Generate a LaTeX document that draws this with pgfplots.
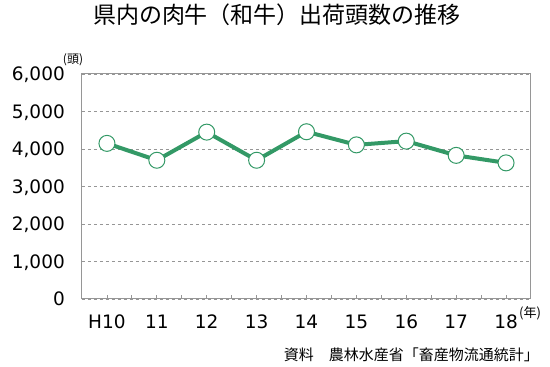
\documentclass[border=0pt]{standalone}
\usepackage{fontspec}
\setmainfont{DejaVu Sans}
\newfontfamily\cjk{Noto Sans CJK JP}
\usepackage{pgfplots}
\pgfplotsset{compat=1.18}
\definecolor{lg}{RGB}{51,153,102}
\definecolor{fr}{RGB}{150,150,150}
\begin{document}
\begin{tikzpicture}
\useasboundingbox (0,0) rectangle (550pt,367pt);
\begin{axis}[at={(82pt,68pt)}, anchor=south west, scale only axis,
  width=449pt, height=225pt,
  xmin=-0.5, xmax=8.5, ymin=0, ymax=6000,
  xtick={0,...,8}, xticklabels={H10,11,12,13,14,15,16,17,18},
  minor x tick num=1,
  xtick pos=bottom, tick align=inside,
  major tick length=4pt, minor tick length=4pt,
  ytick={0,1000,...,6000}, ytick style={draw=none},
  ymajorgrids, grid style={dashed, fr, line width=0.8pt},
  axis line style={fr, line width=1pt},
  tick style={fr, line width=0.8pt},
  tick label style={font=\fontsize{18.5}{18.5}\selectfont, inner sep=0pt},
  /pgf/number format/assume math mode=true,
  /pgf/number format/1000 sep={,},
  scaled y ticks=false,
  yticklabel style={anchor=base east, xshift=-17pt, yshift=-6.8pt},
  xticklabel style={anchor=base, yshift=-29.5pt},
  clip=false]
\addplot[lg, line width=4pt, mark=*, mark size=8pt,
  mark options={fill=white, draw=lg, line width=1pt}]
  coordinates {(0,4150) (1,3700) (2,4450) (3,3700) (4,4460) (5,4110) (6,4210) (7,3830) (8,3630)};
\end{axis}
\node[font=\cjk\fontsize{23}{23}\selectfont] at (277pt,352pt) {県内の肉牛（和牛）出荷頭数の推移};
\node[font=\cjk\fontsize{12}{12}\selectfont, inner sep=0pt] at (73pt,307pt) {(頭)};
\node[font=\cjk\fontsize{13}{13}\selectfont, inner sep=0pt] at (530pt,54pt) {(年)};
\node[anchor=east, inner sep=0pt, font=\cjk\fontsize{15}{15}\selectfont] at (539pt,12pt) {資料　農林水産省「畜産物流通統計」};
\end{tikzpicture}
\end{document}
